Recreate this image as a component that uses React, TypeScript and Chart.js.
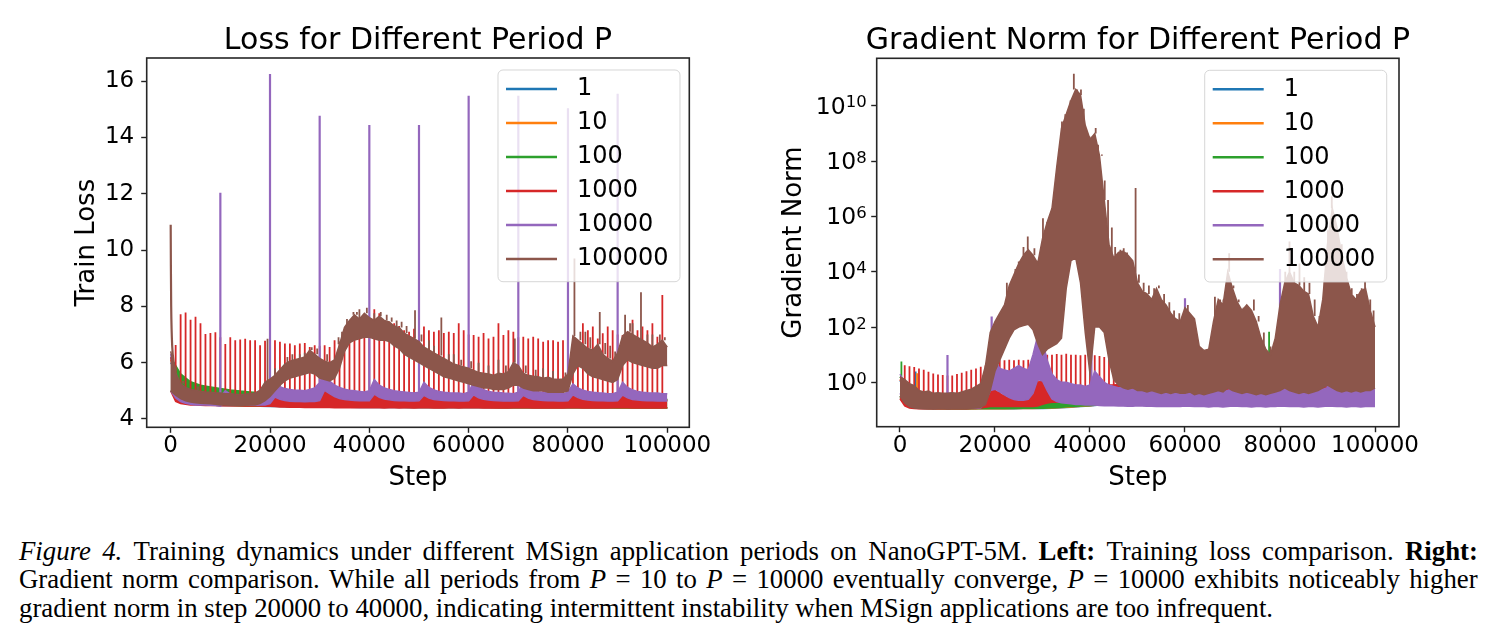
import React, { useEffect, useRef } from 'react';
import { Chart, registerables } from 'chart.js';

Chart.register(...registerables);

// ---------- series & axes ----------
const PERIODS = ['1', '10', '100', '1000', '10000', '100000'];
const COLORS = ['#1f77b4', '#ff7f0e', '#2ca02c', '#d62728', '#9467bd', '#8c564b'];

const STEP_TICKS = [0, 20000, 40000, 60000, 80000, 100000];
const LOSS_TICKS = [4, 6, 8, 10, 12, 14, 16];
const GRAD_TICK_EXPONENTS = [0, 2, 4, 6, 8, 10];

// sampling grids (training step)
const STEPS_1K = Array.from({ length: 101 }, (_, i) => i * 1000);
const STEPS_2K = Array.from({ length: 51 }, (_, i) => i * 2000);
// MSign application steps for P = 1000
const APPLY_STEPS_1K = Array.from({ length: 99 }, (_, i) => (i + 1) * 1000);

// ---------- train loss ----------
// initial drop of the loss (shared start of every run)
const lossWarmupSteps = [0, 100, 300, 600, 1000];
const lossWarmup = [10.9, 8.0, 6.6, 6.0, 5.7];

// upper / lower envelope of each run, every 1000 or 2000 steps
const lossBrownHi = [
  6.4, 5.65, 5.25, 5.12, 5.05, 5.02, 4.98, 4.96, 4.95, 4.93,
  4.92, 4.9, 4.9, 4.88, 4.86, 4.88, 4.9, 4.92, 5.02, 5.3,
  5.42, 5.55, 5.75, 5.95, 6.05, 6.1, 6.15, 6.2, 6.45, 6.3,
  6.15, 6.05, 6.0, 6.1, 6.65, 7.25, 7.5, 7.7, 7.55, 7.75,
  7.6, 7.5, 7.65, 7.5, 7.45, 7.3, 7.25, 7.05, 6.95, 6.85,
  6.75, 6.55, 6.45, 6.35, 6.25, 6.15, 6.05, 5.95, 5.9, 5.85,
  5.8, 5.72, 5.65, 5.62, 5.6, 5.55, 5.62, 5.6, 5.68, 6.0,
  5.9, 5.62, 5.55, 5.52, 5.5, 5.45, 5.48, 5.42, 5.4, 5.42,
  5.6, 6.95, 6.8, 6.65, 6.5, 6.45, 6.65, 6.3, 6.15, 6.05,
  6.35, 6.95, 7.1, 7.0, 6.9, 6.8, 6.7, 6.55, 6.65, 6.8, 6.55,
];
const lossBrownLo = [
  5.0, 4.85, 4.72, 4.65, 4.6, 4.58, 4.56, 4.55, 4.54, 4.52,
  4.5, 4.5, 4.49, 4.5, 4.48, 4.49, 4.5, 4.5, 4.55, 4.65,
  4.8, 5.0, 5.2, 5.35, 5.45, 5.5, 5.55, 5.6, 5.65, 5.6,
  5.45, 5.4, 5.35, 5.45, 5.8, 6.4, 6.7, 6.8, 6.85, 6.9,
  6.9, 6.85, 6.8, 6.8, 6.75, 6.6, 6.5, 6.3, 6.2, 6.1,
  6.0, 5.9, 5.8, 5.7, 5.6, 5.5, 5.45, 5.4, 5.35, 5.3,
  5.25, 5.2, 5.15, 5.1, 5.1, 5.05, 5.05, 5.05, 5.1, 5.2,
  5.2, 5.1, 5.05, 5.0, 5.0, 5.0, 4.95, 4.95, 4.95, 4.95,
  5.0, 5.6, 5.9, 5.8, 5.6, 5.5, 5.45, 5.4, 5.35, 5.3,
  5.4, 5.9, 6.1, 6.0, 5.95, 5.9, 5.85, 5.8, 5.8, 5.9, 5.9,
];
const lossBrownSpikes: [number, number][] = [
  [2500, 5.35], [5500, 5.15], [19500, 6.85], [21000, 5.8], [23500, 6.2], [24500, 6.3],
  [26000, 6.3], [27000, 6.35], [28400, 6.55], [29500, 6.5], [31500, 6.3], [33800, 6.9],
  [34500, 7.1], [35500, 7.55], [36800, 7.8], [37500, 7.8], [38000, 7.9], [39500, 7.95],
  [41000, 7.75], [42300, 7.8], [43500, 7.7], [44500, 7.6], [45500, 7.5], [46500, 7.45],
  [47500, 7.3], [49200, 7.86], [50500, 7.0], [52000, 6.8], [53000, 6.6], [54500, 7.6],
  [56000, 6.3], [57000, 6.3], [58500, 6.1], [60500, 6.05], [62000, 6.0], [64000, 5.9],
  [66000, 6.1], [67500, 5.9], [69300, 6.86], [71500, 5.9], [73500, 5.75], [75000, 5.8],
  [77000, 5.7], [79500, 5.65], [81300, 9.7], [82500, 7.1], [83500, 7.1], [84500, 6.9],
  [86400, 7.8], [87500, 6.7], [88500, 6.6], [89500, 6.4], [91500, 7.7], [92500, 7.4],
  [93000, 7.4], [94700, 8.5], [96000, 7.0], [97000, 7.0], [98500, 7.0], [99500, 6.9],
];

const lossPurpleHi = [
  6.3, 5.3, 5.0, 4.9, 4.85, 4.8, 4.8, 4.78, 4.76, 4.75,
  4.8, 5.0, 4.88, 4.82, 4.8, 4.78, 4.76, 4.76, 4.75, 4.8,
  5.0, 5.35, 5.15, 5.08, 5.05, 5.02, 5.02, 5.0, 5.05, 5.1,
  5.3, 5.55, 5.35, 5.2, 5.12, 5.06, 5.02, 5.0, 4.98, 4.96,
  5.0, 5.4, 5.2, 5.1, 5.05, 5.0, 4.98, 4.96, 4.94, 4.92,
  4.95, 5.3, 5.12, 5.03, 4.98, 4.95, 4.93, 4.92, 4.92, 4.9,
  4.95, 5.32, 5.13, 5.04, 4.98, 4.95, 4.94, 4.92, 4.91, 4.9,
  4.95, 5.3, 5.12, 5.03, 4.97, 4.95, 4.93, 4.92, 4.92, 4.9,
  4.95, 5.25, 5.1, 5.02, 4.98, 4.95, 4.93, 4.92, 4.9, 4.9,
  4.95, 5.3, 5.12, 5.03, 4.98, 4.95, 4.93, 4.92, 4.92, 4.9, 4.9,
];
const lossPurpleLo = [
  5.0, 4.75, 4.62, 4.56, 4.52, 4.5, 4.5, 4.5, 4.49, 4.48,
  4.45, 4.6, 4.55, 4.52, 4.5, 4.5, 4.5, 4.49, 4.5, 4.5,
  4.55, 4.78, 4.7, 4.66, 4.63, 4.62, 4.62, 4.61, 4.62, 4.62,
  4.65, 5.02, 4.9, 4.8, 4.73, 4.69, 4.67, 4.66, 4.65, 4.65,
  4.65, 4.88, 4.77, 4.71, 4.68, 4.66, 4.65, 4.65, 4.64, 4.64,
  4.65, 4.84, 4.74, 4.69, 4.67, 4.66, 4.65, 4.65, 4.64, 4.64,
  4.65, 4.86, 4.75, 4.7, 4.67, 4.66, 4.65, 4.64, 4.64, 4.64,
  4.65, 4.84, 4.74, 4.69, 4.67, 4.66, 4.65, 4.65, 4.64, 4.64,
  4.65, 4.86, 4.76, 4.7, 4.67, 4.66, 4.65, 4.65, 4.64, 4.64,
  4.65, 4.85, 4.75, 4.69, 4.67, 4.66, 4.65, 4.65, 4.64, 4.64, 4.64,
];
const lossPurpleSpikes: [number, number][] = [
  [10000, 12.03], [20000, 16.25], [30000, 14.77], [40000, 14.44], [50000, 14.44],
  [60000, 15.48], [70000, 15.48], [80000, 15.03], [90000, 15.55],
];

const lossRedHi = [
  6.2, 5.0, 4.8, 4.7, 4.66, 4.64, 4.62, 4.6, 4.6, 4.6,
  4.6, 4.72, 4.64, 4.6, 4.6, 4.6, 4.6, 4.6, 4.6, 4.6,
  4.62, 4.8, 4.72, 4.68, 4.65, 4.64, 4.64, 4.64, 4.64, 4.64,
  4.66, 5.05, 4.92, 4.82, 4.75, 4.71, 4.69, 4.68, 4.67, 4.67,
  4.67, 4.9, 4.79, 4.73, 4.7, 4.68, 4.67, 4.67, 4.66, 4.66,
  4.67, 4.86, 4.76, 4.71, 4.69, 4.68, 4.67, 4.67, 4.66, 4.66,
  4.67, 4.88, 4.77, 4.72, 4.69, 4.68, 4.67, 4.66, 4.66, 4.66,
  4.67, 4.86, 4.76, 4.71, 4.69, 4.68, 4.67, 4.67, 4.66, 4.66,
  4.67, 4.88, 4.78, 4.72, 4.69, 4.68, 4.67, 4.67, 4.66, 4.66,
  4.67, 4.87, 4.77, 4.71, 4.69, 4.68, 4.67, 4.67, 4.66, 4.66, 4.66,
];
const lossRedLo = [
  5.0, 4.62, 4.55, 4.52, 4.5, 4.5, 4.49, 4.48, 4.48, 4.48,
  4.47, 4.48, 4.47, 4.47, 4.47, 4.46, 4.46, 4.46, 4.46, 4.45,
  4.45, 4.44, 4.43, 4.43, 4.42, 4.42, 4.42, 4.41, 4.42, 4.41,
  4.41, 4.42, 4.41, 4.4, 4.41, 4.4, 4.4, 4.41, 4.4, 4.4,
  4.4, 4.41, 4.4, 4.39, 4.4, 4.4, 4.39, 4.4, 4.4, 4.39,
  4.4, 4.41, 4.4, 4.39, 4.4, 4.39, 4.4, 4.4, 4.39, 4.4,
  4.4, 4.41, 4.4, 4.39, 4.4, 4.39, 4.39, 4.4, 4.39, 4.4,
  4.4, 4.41, 4.4, 4.39, 4.39, 4.4, 4.39, 4.4, 4.39, 4.39,
  4.4, 4.41, 4.4, 4.39, 4.4, 4.39, 4.4, 4.39, 4.39, 4.4,
  4.4, 4.41, 4.4, 4.39, 4.39, 4.4, 4.39, 4.4, 4.39, 4.39, 4.4,
];
// peak loss right after each MSign application (steps 1000 ... 99000)
const lossRedSpikeTops = [
  6.63, 7.72, 7.78, 7.52, 7.63, 7.4, 7.02, 7.05, 7.08,
  6.9, 6.66, 6.9, 6.8, 6.82, 6.85, 6.8, 6.8, 6.62, 6.78,
  6.8, 6.8, 6.74, 6.68, 6.68, 6.62, 6.68, 6.7, 6.56, 6.62,
  6.6, 6.62, 6.56, 6.8, 6.75, 6.9, 7.0, 7.05, 7.1, 7.2,
  7.3, 7.9, 7.75, 7.4, 7.45, 7.4, 7.3, 7.15, 7.1, 7.2,
  7.2, 7.28, 7.15, 7.1, 7.15, 7.05, 7.1, 7.05, 7.4, 7.15,
  7.0, 6.98, 6.92, 7.05, 6.86, 6.92, 7.4, 6.98, 7.15, 7.1,
  6.9, 6.92, 6.86, 6.92, 6.86, 6.74, 6.8, 6.8, 6.74, 6.8,
  6.9, 6.92, 6.74, 7.4, 7.15, 7.28, 6.86, 7.04, 7.28, 7.15,
  7.0, 6.98, 7.04, 7.52, 7.15, 7.28, 7.15, 7.4, 6.92, 8.4,
];

const lossGreenHi = [
  6.2, 5.6, 5.32, 5.2, 5.14, 5.08, 5.03, 4.99, 4.96, 4.93,
  4.9, 4.88, 4.86, 4.85, 4.84, 4.83, 4.82, 4.81, 4.8, 4.8,
  4.79, 4.78, 4.78, 4.77, 4.77, 4.76, 4.76, 4.75, 4.75, 4.75,
  4.74, 4.74, 4.74, 4.73, 4.73, 4.73, 4.72, 4.72, 4.72, 4.72,
  4.71, 4.71, 4.71, 4.71, 4.7, 4.7, 4.7, 4.7, 4.7, 4.7, 4.7,
];
const lossGreenLo = [
  5.0, 4.78, 4.62, 4.56, 4.52, 4.5, 4.49, 4.48, 4.47, 4.47,
  4.46, 4.46, 4.45, 4.45, 4.45, 4.44, 4.44, 4.44, 4.44, 4.43,
  4.43, 4.43, 4.43, 4.43, 4.42, 4.42, 4.42, 4.42, 4.42, 4.42,
  4.42, 4.42, 4.42, 4.41, 4.41, 4.41, 4.41, 4.41, 4.41, 4.41,
  4.41, 4.41, 4.41, 4.41, 4.41, 4.4, 4.4, 4.4, 4.4, 4.4, 4.4,
];
const lossOrangeHi = [
  6.1, 5.45, 5.2, 5.1, 5.04, 5.0, 4.96, 4.93, 4.9, 4.88,
  4.86, 4.84, 4.83, 4.82, 4.81, 4.8, 4.79, 4.78, 4.78, 4.77,
  4.76, 4.76, 4.75, 4.75, 4.74, 4.74, 4.73, 4.73, 4.73, 4.72,
  4.72, 4.72, 4.71, 4.71, 4.71, 4.71, 4.7, 4.7, 4.7, 4.7,
  4.69, 4.69, 4.69, 4.69, 4.69, 4.68, 4.68, 4.68, 4.68, 4.68, 4.68,
];
const lossOrangeLo = [
  5.0, 4.76, 4.6, 4.55, 4.51, 4.49, 4.48, 4.47, 4.46, 4.46,
  4.45, 4.45, 4.44, 4.44, 4.44, 4.43, 4.43, 4.43, 4.43, 4.42,
  4.42, 4.42, 4.42, 4.42, 4.41, 4.41, 4.41, 4.41, 4.41, 4.41,
  4.41, 4.41, 4.41, 4.4, 4.4, 4.4, 4.4, 4.4, 4.4, 4.4,
  4.4, 4.4, 4.4, 4.4, 4.4, 4.39, 4.39, 4.39, 4.39, 4.39, 4.39,
];
const lossBlueHi = [
  6.0, 5.4, 5.15, 5.06, 5.0, 4.96, 4.93, 4.9, 4.88, 4.86,
  4.84, 4.83, 4.82, 4.81, 4.8, 4.79, 4.78, 4.77, 4.77, 4.76,
  4.75, 4.75, 4.74, 4.74, 4.73, 4.73, 4.72, 4.72, 4.72, 4.71,
  4.71, 4.71, 4.7, 4.7, 4.7, 4.7, 4.69, 4.69, 4.69, 4.69,
  4.68, 4.68, 4.68, 4.68, 4.68, 4.67, 4.67, 4.67, 4.67, 4.67, 4.67,
];
const lossBlueLo = [
  5.0, 4.75, 4.6, 4.54, 4.5, 4.48, 4.47, 4.46, 4.45, 4.45,
  4.44, 4.44, 4.43, 4.43, 4.43, 4.42, 4.42, 4.42, 4.42, 4.41,
  4.41, 4.41, 4.41, 4.41, 4.4, 4.4, 4.4, 4.4, 4.4, 4.4,
  4.4, 4.4, 4.4, 4.39, 4.39, 4.39, 4.39, 4.39, 4.39, 4.39,
  4.39, 4.39, 4.39, 4.39, 4.39, 4.38, 4.38, 4.38, 4.38, 4.38, 4.38,
];

// ---------- gradient norm, stored as log10 ----------
const gradBrownHi = [
  0.2, 0.1, -0.05, -0.12, -0.3, -0.35, -0.32, -0.4, -0.38, -0.4,
  -0.4, -0.38, -0.4, -0.35, -0.3, -0.25, -0.15, -0.05, 0.6, 1.8,
  2.2, 2.5, 2.8, 3.5, 3.9, 4.3, 4.6, 4.8, 4.6, 4.3,
  5.2, 5.8, 6.3, 7.8, 9.2, 9.7, 10.2, 10.6, 10.4, 9.3,
  8.8, 9.0, 8.2, 6.6, 5.0, 4.5, 4.7, 4.75, 4.6, 4.4,
  3.6, 3.3, 3.2, 3.0, 3.4, 3.0, 2.8, 2.5, 2.3, 2.2,
  2.7, 2.5, 2.3, 1.3, 1.15, 1.2, 2.2, 3.0, 2.8, 4.0,
  3.4, 2.9, 2.6, 2.8, 2.6, 2.2, 1.6, 1.2, 1.0, 1.6,
  2.8, 3.6, 4.0, 3.6, 3.5, 3.3, 3.2, 2.4, 2.0, 3.0,
  5.0, 6.3, 5.6, 4.6, 3.8, 3.2, 3.0, 3.3, 3.4, 2.6, 2.0,
];
const gradBrownLo = [
  -0.5, -0.75, -0.88, -0.93, -0.95, -0.96, -0.95, -0.97, -0.96, -0.95,
  -0.97, -0.96, -0.96, -0.95, -0.96, -0.94, -0.93, -0.9, -0.8, -0.3,
  0.4, 0.8, 1.2, 1.6, 1.9, 2.0, 2.05, 2.1, 1.9, 1.4,
  1.0, 1.2, 1.3, 1.4, 1.6, 3.4, 4.4, 4.5, 3.6, 1.8,
  0.3, 2.0, 2.0, 1.8, 0.8, 0.1, -0.1, -0.2, -0.25, -0.2,
  -0.3, -0.3, -0.35, -0.3, -0.35, -0.4, -0.35, -0.4, -0.35, -0.4,
  -0.4, -0.35, -0.45, -0.4, -0.45, -0.4, -0.35, -0.3, -0.35, -0.2,
  -0.3, -0.35, -0.4, -0.35, -0.4, -0.45, -0.4, -0.45, -0.4, -0.35,
  -0.3, -0.2, -0.3, -0.35, -0.4, -0.35, -0.4, -0.35, -0.3, -0.2,
  -0.1, -0.2, -0.3, -0.35, -0.3, -0.35, -0.3, -0.35, -0.3, -0.3, -0.2,
];
const gradBrownSpikes: [number, number][] = [
  [22500, 3.6], [24300, 4.1], [25000, 4.37], [26000, 4.9], [26900, 5.28], [28300, 4.85], [29000, 4.4],
  [30100, 5.94], [31000, 5.6], [32000, 6.1], [32500, 6.54], [33200, 7.5], [34100, 9.44], [34800, 9.0],
  [35900, 9.87], [36600, 11.17], [37300, 10.5], [38100, 10.6], [38700, 9.9], [39200, 9.3], [39900, 8.9],
  [41200, 9.2], [41700, 8.6], [42500, 8.24], [43100, 7.3], [43800, 6.6], [44600, 5.6],
  [45300, 4.9], [46400, 4.8], [47100, 4.85], [47800, 4.7], [48600, 4.4], [49600, 7.03], [50300, 3.9],
  [51300, 3.6], [52400, 3.5], [53500, 3.4], [54500, 3.5], [55600, 3.2], [56700, 2.9], [57700, 2.6],
  [58800, 2.5], [60600, 2.8], [61300, 2.5], [66300, 3.1], [67400, 2.9], [68100, 3.0], [69300, 4.67],
  [70200, 3.5], [71300, 3.0], [72300, 2.7], [73400, 2.8], [74500, 3.0], [75500, 2.4], [76600, 1.8],
  [78000, 1.3], [80200, 2.9], [81100, 4.0], [82000, 5.1], [83000, 4.0], [84100, 4.3], [85100, 3.8],
  [86200, 3.6], [87300, 3.0], [88300, 2.4], [89400, 3.7], [90100, 5.5], [90900, 6.73], [91600, 6.0],
  [92300, 5.6], [93000, 5.0], [94000, 4.0], [95100, 3.4], [96200, 3.2], [97200, 3.4], [97900, 3.65],
  [99000, 3.0], [99700, 2.6],
];

const gradPurpleHi = [
  0.3, 0.0, -0.3, -0.4, -0.45, -0.45, -0.45, -0.45, -0.45, -0.45,
  -0.4, -0.4, -0.45, -0.45, -0.45, -0.45, -0.45, -0.4, 0.0, 1.3,
  0.8, 0.5, 0.45, 0.4, 0.5, 0.6, 0.5, 0.45, 1.0, 1.7,
  1.5, 0.8, 0.3, 0.1, 0.0, 0.0, -0.05, -0.1, -0.1, -0.15,
  -0.1, 0.4, 0.2, 0.0, -0.1, -0.15, -0.2, -0.2, -0.25, -0.25,
  -0.2, 0.0, -0.1, -0.2, -0.25, -0.25, -0.3, -0.3, -0.3, -0.3,
  -0.25, 0.0, -0.1, -0.2, -0.2, -0.25, -0.3, -0.3, -0.3, -0.3,
  -0.2, -0.05, -0.1, -0.2, -0.2, -0.25, -0.25, -0.3, -0.3, -0.3,
  -0.15, 0.05, -0.05, -0.15, -0.2, -0.2, -0.25, -0.25, -0.25, -0.25,
  -0.2, 0.0, -0.1, -0.15, -0.2, -0.2, -0.2, -0.25, -0.25, -0.25, -0.2,
];
const gradPurpleLo = [
  -0.4, -0.7, -0.85, -0.9, -0.92, -0.93, -0.93, -0.94, -0.94, -0.94,
  -0.94, -0.93, -0.94, -0.94, -0.94, -0.94, -0.94, -0.92, -0.7, -0.3,
  -0.25, -0.35, -0.45, -0.55, -0.62, -0.65, -0.65, -0.62, -0.4, 0.1,
  0.05, -0.3, -0.6, -0.7, -0.74, -0.76, -0.78, -0.8, -0.8, -0.82,
  -0.82, -0.82, -0.84, -0.85, -0.85, -0.85, -0.86, -0.86, -0.87, -0.87,
  -0.85, -0.86, -0.87, -0.87, -0.88, -0.88, -0.87, -0.88, -0.88, -0.88,
  -0.86, -0.87, -0.88, -0.88, -0.88, -0.89, -0.88, -0.88, -0.89, -0.88,
  -0.86, -0.87, -0.88, -0.88, -0.89, -0.88, -0.88, -0.89, -0.88, -0.88,
  -0.86, -0.87, -0.88, -0.88, -0.88, -0.89, -0.88, -0.88, -0.89, -0.88,
  -0.86, -0.87, -0.88, -0.88, -0.89, -0.88, -0.88, -0.89, -0.88, -0.88, -0.88,
];
const gradPurpleSpikes: [number, number][] = [
  [10000, 0.99], [19300, 2.38], [40300, 1.9], [60000, 3.04], [70000, 2.7], [80000, 4.1], [90000, 1.3],
];

const gradRedHi = [
  0.1, -0.2, -0.35, -0.45, -0.5, -0.5, -0.52, -0.5, -0.52, -0.5,
  -0.5, -0.5, -0.52, -0.5, -0.5, -0.48, -0.45, -0.4, -0.3, -0.28,
  -0.3, -0.4, -0.5, -0.58, -0.64, -0.66, -0.66, -0.62, -0.3, 0.0,
  0.05, -0.35, -0.6, -0.68, -0.7, -0.7, -0.7, -0.7, -0.7, -0.7,
  -0.6, -0.45, -0.3, -0.15, -0.1, -0.1, -0.08, -0.1, -0.1, -0.08,
  -0.1, -0.1, -0.12, -0.1, -0.12, -0.15, -0.12, -0.15, -0.15, -0.15,
  -0.2, -0.2, -0.2, -0.22, -0.2, -0.22, -0.2, -0.2, -0.22, -0.2,
  -0.2, -0.2, -0.22, -0.2, -0.2, -0.22, -0.2, -0.2, -0.22, -0.2,
  -0.15, -0.2, -0.2, -0.22, -0.2, -0.2, -0.22, -0.2, -0.2, -0.2,
  -0.15, -0.2, -0.2, -0.22, -0.2, -0.2, -0.22, -0.2, -0.2, -0.2, -0.2,
];
const gradRedLo = [
  -0.6, -0.85, -0.93, -0.95, -0.96, -0.96, -0.96, -0.96, -0.96, -0.96,
  -0.96, -0.96, -0.96, -0.96, -0.96, -0.95, -0.95, -0.93, -0.9, -0.88,
  -0.88, -0.88, -0.88, -0.88, -0.88, -0.88, -0.88, -0.88, -0.88, -0.86,
  -0.8, -0.75, -0.72, -0.72, -0.72, -0.72, -0.72, -0.72, -0.72, -0.72,
  -0.72, -0.74, -0.76, -0.78, -0.8, -0.8, -0.8, -0.82, -0.82, -0.82,
  -0.82, -0.83, -0.84, -0.84, -0.85, -0.85, -0.84, -0.85, -0.85, -0.85,
  -0.84, -0.85, -0.86, -0.85, -0.86, -0.85, -0.85, -0.86, -0.85, -0.86,
  -0.84, -0.85, -0.86, -0.85, -0.86, -0.85, -0.85, -0.86, -0.85, -0.86,
  -0.84, -0.85, -0.86, -0.85, -0.86, -0.85, -0.85, -0.86, -0.85, -0.86,
  -0.84, -0.85, -0.86, -0.85, -0.86, -0.85, -0.85, -0.86, -0.85, -0.86, -0.86,
];
// log10 peak gradient norm right after each MSign application (steps 1000 ... 99000)
const gradRedSpikeTops = [
  0.62, 0.58, 0.55, 0.5, 0.45, 0.38, 0.32, 0.28, 0.26,
  0.25, 0.25, 0.3, 0.35, 0.4, 0.45, 0.5, 0.56, 0.62, 0.7,
  0.78, 0.8, 0.8, 0.82, 0.8, 0.82, 0.8, 0.82, 0.8, 0.85,
  0.95, 1.0, 1.0, 1.02, 1.0, 1.03, 1.0, 1.0, 0.98, 1.0,
  1.0, 0.98, 0.95, 0.92, 0.85, 0.75, 0.7, 0.66, 0.62, 0.6,
  0.56, 0.52, 0.48, 0.45, 0.42, 0.38, 0.33, 0.3, 0.25, 0.22,
  0.1, 0.05, 0.05, 0.0, 0.05, 0.0, 0.0, 0.05, 0.0, 0.0,
  0.05, 0.0, 0.05, 0.0, 0.0, 0.05, 0.0, 0.1, 0.3, 0.2,
  0.4, 0.8, 0.3, 0.6, 0.3, 0.5, 0.3, 0.2, 0.4, 0.6,
  0.9, 0.6, 1.0, 0.7, 1.1, 0.6, 0.9, 1.0, 0.9, 0.6,
];

const gradGreenHi = [
  0.2, -0.3, -0.45, -0.52, -0.58, -0.62, -0.65, -0.68, -0.7, -0.72,
  -0.74, -0.75, -0.75, -0.75, -0.74, -0.74, -0.73, -0.72, -0.7, -0.69,
  -0.68, -0.6, -0.45, -0.35, -0.3, -0.25, -0.22, -0.2, -0.18, -0.15,
  -0.12, -0.1, -0.08, -0.08, -0.07, -0.06, -0.06, -0.05, -0.05, -0.04,
  -0.04, -0.04, -0.03, -0.03, -0.03, -0.02, -0.02, -0.02, -0.02, -0.02, -0.02,
];
const gradGreenLo = [
  -0.5, -0.85, -0.93, -0.95, -0.95, -0.96, -0.95, -0.96, -0.95, -0.95,
  -0.95, -0.95, -0.95, -0.94, -0.94, -0.94, -0.92, -0.9, -0.88, -0.86,
  -0.84, -0.8, -0.76, -0.74, -0.73, -0.72, -0.72, -0.72, -0.72, -0.72,
  -0.72, -0.72, -0.72, -0.72, -0.72, -0.72, -0.72, -0.72, -0.72, -0.72,
  -0.72, -0.72, -0.72, -0.72, -0.72, -0.72, -0.72, -0.72, -0.72, -0.72, -0.72,
];
const gradGreenSpikes: [number, number][] = [[300, 0.75], [77700, 1.83], [82600, 0.45], [98300, 0.93]];

const gradOrangeHi = [
  0.1, -0.35, -0.5, -0.56, -0.62, -0.66, -0.69, -0.71, -0.73, -0.75,
  -0.76, -0.77, -0.77, -0.77, -0.76, -0.76, -0.75, -0.74, -0.73, -0.72,
  -0.7, -0.62, -0.5, -0.4, -0.34, -0.3, -0.26, -0.24, -0.22, -0.2,
  -0.17, -0.15, -0.13, -0.12, -0.11, -0.1, -0.1, -0.09, -0.09, -0.08,
  -0.08, -0.08, -0.07, -0.07, -0.07, -0.06, -0.06, -0.06, -0.06, -0.06, -0.06,
];
const gradOrangeLo = [
  -0.55, -0.86, -0.94, -0.95, -0.96, -0.96, -0.96, -0.96, -0.96, -0.96,
  -0.96, -0.96, -0.95, -0.95, -0.95, -0.94, -0.93, -0.91, -0.89, -0.87,
  -0.85, -0.81, -0.77, -0.75, -0.74, -0.73, -0.73, -0.73, -0.73, -0.73,
  -0.73, -0.73, -0.73, -0.73, -0.73, -0.73, -0.73, -0.73, -0.73, -0.73,
  -0.73, -0.73, -0.73, -0.73, -0.73, -0.73, -0.73, -0.73, -0.73, -0.73, -0.73,
];
const gradOrangeSpikes: [number, number][] = [[3600, 0.33]];

const gradBlueHi = [
  0.05, -0.38, -0.52, -0.58, -0.64, -0.68, -0.7, -0.72, -0.74, -0.76,
  -0.77, -0.78, -0.78, -0.78, -0.77, -0.77, -0.76, -0.75, -0.74, -0.73,
  -0.72, -0.64, -0.52, -0.42, -0.36, -0.32, -0.28, -0.26, -0.24, -0.22,
  -0.19, -0.17, -0.15, -0.14, -0.13, -0.12, -0.12, -0.11, -0.11, -0.1,
  -0.1, -0.1, -0.09, -0.09, -0.09, -0.08, -0.08, -0.08, -0.08, -0.08, -0.08,
];
const gradBlueLo = [
  -0.55, -0.87, -0.94, -0.96, -0.96, -0.96, -0.96, -0.96, -0.96, -0.96,
  -0.96, -0.96, -0.96, -0.95, -0.95, -0.95, -0.94, -0.92, -0.9, -0.88,
  -0.86, -0.82, -0.78, -0.76, -0.75, -0.74, -0.74, -0.74, -0.74, -0.74,
  -0.74, -0.74, -0.74, -0.74, -0.74, -0.74, -0.74, -0.74, -0.74, -0.74,
  -0.74, -0.74, -0.74, -0.74, -0.74, -0.74, -0.74, -0.74, -0.74, -0.74, -0.74,
];
const gradBlueSpikes: [number, number][] = [[3300, 0.39]];

// ---------- dataset builders ----------
const FONT = '"DejaVu Sans", "Liberation Sans", sans-serif';
const lin = (v: number) => v;
const exp10 = (v: number) => Math.pow(10, v);

function nearestValue(steps: number[], vals: number[], s: number) {
  let best = 0;
  for (let i = 1; i < steps.length; i++) {
    if (Math.abs(steps[i] - s) < Math.abs(steps[best] - s)) best = i;
  }
  return vals[best];
}

// later runs are drawn on top (lower order = drawn later)
const orderOf = (series: number) => 6 - series;

function bandDatasets(series: number, steps: number[], hi: number[], lo: number[], toY: (v: number) => number) {
  const c = COLORS[series];
  const common = { borderColor: c, backgroundColor: c, borderWidth: 1.5, pointRadius: 0, tension: 0, order: orderOf(series) };
  return [
    { ...common, label: PERIODS[series], data: steps.map((s, i) => ({ x: s, y: toY(hi[i]) })), fill: '+1' },
    { ...common, label: PERIODS[series] + ' (low)', data: steps.map((s, i) => ({ x: s, y: toY(lo[i]) })), fill: false },
  ];
}

function lineDataset(series: number, steps: number[], vals: number[], toY: (v: number) => number, width: number) {
  const c = COLORS[series];
  return {
    label: PERIODS[series] + ' (start)',
    data: steps.map((s, i) => ({ x: s, y: toY(vals[i]) })),
    borderColor: c,
    backgroundColor: c,
    borderWidth: width,
    pointRadius: 0,
    tension: 0.3,
    fill: false,
    order: orderOf(series),
  };
}

function spikeDataset(
  series: number,
  tops: [number, number][],
  baseSteps: number[],
  baseVals: number[],
  toY: (v: number) => number,
  width: number,
) {
  const c = COLORS[series];
  const data: { x: number; y: number | null }[] = [];
  for (const [s, v] of tops) {
    const b = toY(nearestValue(baseSteps, baseVals, s));
    data.push({ x: s, y: b }, { x: s, y: toY(v) }, { x: s, y: b }, { x: s, y: null });
  }
  return {
    label: PERIODS[series] + ' (spikes)',
    data,
    borderColor: c,
    backgroundColor: c,
    borderWidth: width,
    pointRadius: 0,
    tension: 0,
    fill: false,
    spanGaps: false,
    order: orderOf(series),
  };
}

const pairUp = (steps: number[], vals: number[]): [number, number][] => steps.map((s, i) => [s, vals[i]]);

function lossDatasets() {
  return [
    lineDataset(5, lossWarmupSteps, lossWarmup, lin, 2.2),
    ...bandDatasets(5, STEPS_1K, lossBrownHi, lossBrownLo, lin),
    spikeDataset(5, lossBrownSpikes, STEPS_1K, lossBrownHi, lin, 1.8),
    ...bandDatasets(4, STEPS_1K, lossPurpleHi, lossPurpleLo, lin),
    spikeDataset(4, lossPurpleSpikes, STEPS_1K, lossPurpleHi, lin, 2.2),
    ...bandDatasets(3, STEPS_1K, lossRedHi, lossRedLo, lin),
    spikeDataset(3, pairUp(APPLY_STEPS_1K, lossRedSpikeTops), STEPS_1K, lossRedHi, lin, 1.8),
    ...bandDatasets(2, STEPS_2K, lossGreenHi, lossGreenLo, lin),
    ...bandDatasets(1, STEPS_2K, lossOrangeHi, lossOrangeLo, lin),
    ...bandDatasets(0, STEPS_2K, lossBlueHi, lossBlueLo, lin),
  ];
}

function gradDatasets() {
  return [
    ...bandDatasets(5, STEPS_1K, gradBrownHi, gradBrownLo, exp10),
    spikeDataset(5, gradBrownSpikes, STEPS_1K, gradBrownHi, exp10, 1.8),
    ...bandDatasets(4, STEPS_1K, gradPurpleHi, gradPurpleLo, exp10),
    spikeDataset(4, gradPurpleSpikes, STEPS_1K, gradPurpleHi, exp10, 2.2),
    ...bandDatasets(3, STEPS_1K, gradRedHi, gradRedLo, exp10),
    spikeDataset(3, pairUp(APPLY_STEPS_1K, gradRedSpikeTops), STEPS_1K, gradRedHi, exp10, 1.8),
    ...bandDatasets(2, STEPS_2K, gradGreenHi, gradGreenLo, exp10),
    spikeDataset(2, gradGreenSpikes, STEPS_2K, gradGreenHi, exp10, 1.8),
    ...bandDatasets(1, STEPS_2K, gradOrangeHi, gradOrangeLo, exp10),
    spikeDataset(1, gradOrangeSpikes, STEPS_2K, gradOrangeHi, exp10, 1.8),
    ...bandDatasets(0, STEPS_2K, gradBlueHi, gradBlueLo, exp10),
    spikeDataset(0, gradBlueSpikes, STEPS_2K, gradBlueHi, exp10, 1.8),
  ];
}

// ---------- frame, legend, title, axis labels, power-of-ten tick labels ----------
function decorations(title: string, yLabel: string, yLabelX: number, legendGap: number, powerTicks?: number[]) {
  return {
    id: 'decorations',
    afterDraw(chart: any) {
      const { ctx, chartArea: a } = chart;
      ctx.save();

      // legend box
      const w = 182;
      const h = 211.7;
      const bx = a.right - legendGap - w;
      const by = a.top + 12;
      ctx.beginPath();
      ctx.roundRect(bx, by, w, h, 5);
      ctx.fillStyle = 'rgba(255,255,255,0.8)';
      ctx.fill();
      ctx.strokeStyle = 'rgba(204,204,204,0.8)';
      ctx.lineWidth = 1;
      ctx.stroke();
      ctx.font = '24px ' + FONT;
      ctx.textAlign = 'left';
      ctx.textBaseline = 'middle';
      PERIODS.forEach((p, i) => {
        const y = by + 19 + i * 34;
        ctx.strokeStyle = COLORS[i];
        ctx.lineWidth = 2.6;
        ctx.beginPath();
        ctx.moveTo(bx + 8, y);
        ctx.lineTo(bx + 59, y);
        ctx.stroke();
        ctx.fillStyle = '#000';
        ctx.fillText(p, bx + 79, y);
      });

      // axes frame
      ctx.strokeStyle = '#262626';
      ctx.lineWidth = 1.6;
      ctx.strokeRect(a.left, a.top, a.right - a.left, a.bottom - a.top);

      ctx.fillStyle = '#000';

      // 10^n tick labels with raised exponents
      if (powerTicks) {
        const yScale = chart.scales.y;
        const right = a.left - 10;
        powerTicks.forEach((e) => {
          const y = yScale.getPixelForValue(Math.pow(10, e));
          const exp = String(e);
          ctx.font = '16.5px ' + FONT;
          const ew = ctx.measureText(exp).width;
          ctx.textAlign = 'left';
          ctx.textBaseline = 'alphabetic';
          ctx.fillText(exp, right - ew, y + 1.5);
          ctx.font = '23.5px ' + FONT;
          ctx.textAlign = 'right';
          ctx.textBaseline = 'middle';
          ctx.fillText('10', right - ew, y + 1.5);
        });
      }

      // title and axis labels
      const cx = (a.left + a.right) / 2;
      ctx.textAlign = 'center';
      ctx.textBaseline = 'alphabetic';
      ctx.font = '30px ' + FONT;
      ctx.fillText(title, cx, 49.3);
      ctx.font = '26px ' + FONT;
      ctx.fillText('Step', cx, 485);
      ctx.translate(yLabelX, (a.top + a.bottom) / 2);
      ctx.rotate(-Math.PI / 2);
      ctx.fillText(yLabel, 0, 0);
      ctx.restore();
    },
  };
}

const tickGrid = { drawOnChartArea: false, drawTicks: true, tickLength: 5.5, tickWidth: 1.4, tickColor: '#222' };

// the axis boxes are sized so the plot area lands at fixed pixel positions
function stepAxis(min: number, max: number, bandHeight: number) {
  return {
    type: 'linear',
    min,
    max,
    afterFit: (s: any) => { s.height = bandHeight; },
    afterBuildTicks: (s: any) => { s.ticks = STEP_TICKS.map((v) => ({ value: v })); },
    grid: tickGrid,
    border: { display: false },
    ticks: {
      autoSkip: false,
      maxRotation: 0,
      minRotation: 0,
      padding: 2,
      color: '#000',
      font: { family: FONT, size: 23, lineHeight: 1 },
      callback: (v: number) => String(v),
    },
  };
}

function baseOptions(padding: any, x: any, y: any) {
  return {
    animation: false,
    responsive: false,
    maintainAspectRatio: false,
    devicePixelRatio: 1,
    events: [],
    layout: { padding },
    plugins: { legend: { display: false }, tooltip: { enabled: false }, title: { display: false } },
    scales: { x, y },
  };
}

function lossConfig() {
  return {
    type: 'line',
    data: { datasets: lossDatasets() },
    options: baseOptions(
      { left: 0, top: 58, right: 57.7, bottom: 0 },
      stepAxis(-4830, 104430, 92.7),
      {
        type: 'linear',
        min: 3.705,
        max: 16.817,
        afterFit: (s: any) => { s.width = 146.7; },
        afterBuildTicks: (s: any) => { s.ticks = LOSS_TICKS.map((v) => ({ value: v })); },
        grid: tickGrid,
        border: { display: false },
        ticks: { autoSkip: false, padding: 7, color: '#000', font: { family: FONT, size: 23 }, callback: (v: number) => String(v) },
      },
    ),
    plugins: [decorations('Loss for Different Period P', 'Train Loss', 93.5, 9.3)],
  };
}

function gradConfig() {
  return {
    type: 'line',
    data: { datasets: gradDatasets() },
    options: baseOptions(
      { left: 0, top: 58.3, right: 96, bottom: 0 },
      stepAxis(-4900, 105050, 93.3),
      {
        type: 'logarithmic',
        min: Math.pow(10, -1.607),
        max: Math.pow(10, 11.726),
        afterFit: (s: any) => { s.width = 129.7; },
        afterBuildTicks: (s: any) => { s.ticks = GRAD_TICK_EXPONENTS.map((e) => ({ value: Math.pow(10, e) })); },
        grid: tickGrid,
        border: { display: false },
        // labels are drawn with raised exponents by the decorations plugin
        ticks: { autoSkip: false, display: false },
      },
    ),
    plugins: [decorations('Gradient Norm for Different Period P', 'Gradient Norm', 53.7, 12.3, GRAD_TICK_EXPONENTS)],
  };
}

function ChartCanvas({ left, width, height, build }: { left: number; width: number; height: number; build: () => any }) {
  const ref = useRef<HTMLCanvasElement>(null);
  useEffect(() => {
    const chart = new Chart(ref.current as HTMLCanvasElement, build());
    return () => chart.destroy();
  }, []);
  return (
    <canvas
      ref={ref}
      width={width}
      height={height}
      style={{ position: 'absolute', left, top: 0, width, height, display: 'block' }}
    />
  );
}

// ---------- caption ----------
type Tok = { t: string; s?: 'i' | 'b' };
const w = (t: string, s?: 'i' | 'b'): Tok => ({ t, s });
const CAPTION_LINE_1: Tok[] = [
  w('Figure', 'i'), w('4.', 'i'), w('Training'), w('dynamics'), w('under'), w('different'), w('MSign'),
  w('application'), w('periods'), w('on'), w('NanoGPT-5M.'), w('Left:', 'b'), w('Training'), w('loss'),
  w('comparison.'), w('Right:', 'b'),
];
const CAPTION_LINE_2: Tok[] = [
  w('Gradient'), w('norm'), w('comparison.'), w('While'), w('all'), w('periods'), w('from'),
  w('P', 'i'), w('='), w('10'), w('to'), w('P', 'i'), w('='), w('10000'), w('eventually'), w('converge,'),
  w('P', 'i'), w('='), w('10000'), w('exhibits'), w('noticeably'), w('higher'),
];
const CAPTION_LINE_3 =
  'gradient norm in step 20000 to 40000, indicating intermittent instability when MSign applications are too infrequent.';

function JustifiedLine({ tokens }: { tokens: Tok[] }) {
  return (
    <div style={{ display: 'flex', justifyContent: 'space-between', whiteSpace: 'nowrap' }}>
      {tokens.map((tk, i) => (
        <span key={i} style={{ fontStyle: tk.s === 'i' ? 'italic' : 'normal', fontWeight: tk.s === 'b' ? 'bold' : 'normal' }}>
          {tk.t}
        </span>
      ))}
    </div>
  );
}

export default function App() {
  return (
    <div style={{ position: 'absolute', left: 0, top: 0, width: 1495, height: 644, background: '#fff', overflow: 'hidden' }}>
      <ChartCanvas left={0} width={747} height={520} build={lossConfig} />
      <ChartCanvas left={747} width={748} height={520} build={gradConfig} />
      <div
        style={{
          position: 'absolute',
          left: 19,
          top: 536.6,
          width: 1459,
          fontFamily: '"Liberation Serif", "Times New Roman", serif',
          fontSize: 26.8,
          lineHeight: '28.7px',
          color: '#000',
        }}
      >
        <JustifiedLine tokens={CAPTION_LINE_1} />
        <JustifiedLine tokens={CAPTION_LINE_2} />
        <div style={{ whiteSpace: 'nowrap' }}>{CAPTION_LINE_3}</div>
      </div>
    </div>
  );
}
